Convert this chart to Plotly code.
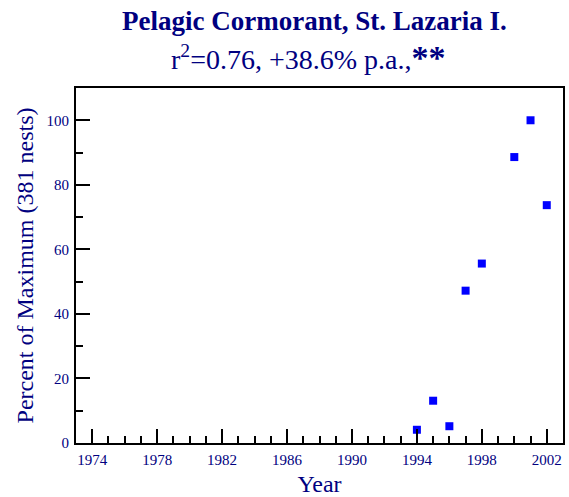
import plotly.graph_objects as go

years = [1994, 1995, 1996, 1997, 1998, 2000, 2001, 2002]
percent_max = [4.1, 13.1, 5.2, 47.2, 55.6, 88.6, 100, 73.7]

x_ticks = [1974, 1978, 1982, 1986, 1990, 1994, 1998, 2002]
y_ticks = [0, 20, 40, 60, 80, 100]

navy = '#000080'
serif = 'Liberation Serif'

fig = go.Figure()
fig.add_trace(go.Scatter(x=years, y=percent_max, mode='markers',
                         marker=dict(symbol='square', size=8, color='#0000ff'),
                         showlegend=False))

axis_common = dict(showline=True, linecolor='black', linewidth=2, mirror=True,
                   showgrid=False, zeroline=False, ticks='inside', ticklen=14,
                   tickwidth=1.5, tickcolor='black', automargin=False,
                   ticklabelstandoff=2,
                   tickfont=dict(family=serif, size=15, color=navy))

fig.update_xaxes(range=[1973, 2003], tickvals=x_ticks,
                 minor=dict(dtick=1, ticks='inside', ticklen=7, tickwidth=1.5, tickcolor='black'),
                 title=dict(text='Year', font=dict(family=serif, size=24, color=navy), standoff=10),
                 **axis_common)
fig.update_yaxes(range=[0, 110], tickvals=y_ticks,
                 minor=dict(dtick=10, ticks='inside', ticklen=7, tickwidth=1.5, tickcolor='black'),
                 title=dict(text='Percent of Maximum (381 nests)', font=dict(family=serif, size=24, color=navy), standoff=6),
                 **axis_common)

fig.add_annotation(x=0.49, y=1, xref='paper', yref='paper', yanchor='bottom', yshift=50,
                   text='<b>Pelagic Cormorant, St. Lazaria I.</b>', showarrow=False,
                   font=dict(family=serif, size=27, color=navy))
fig.add_annotation(x=0.476, y=1, xref='paper', yref='paper', yanchor='bottom', yshift=10,
                   text="r<sup>2</sup>=0.76, +38.6% p.a.,<b><span style='font-size:34px'>**</span></b>",
                   showarrow=False, font=dict(family=serif, size=28, color=navy))

fig.update_layout(width=569, height=497, plot_bgcolor='white', paper_bgcolor='white',
                  margin=dict(l=76, r=6, t=88, b=54))

# drop the default body margin so the figure fills the window
fig.write_html("out.html", config={'displayModeBar': False},
               post_script="document.body.style.margin='0';")
